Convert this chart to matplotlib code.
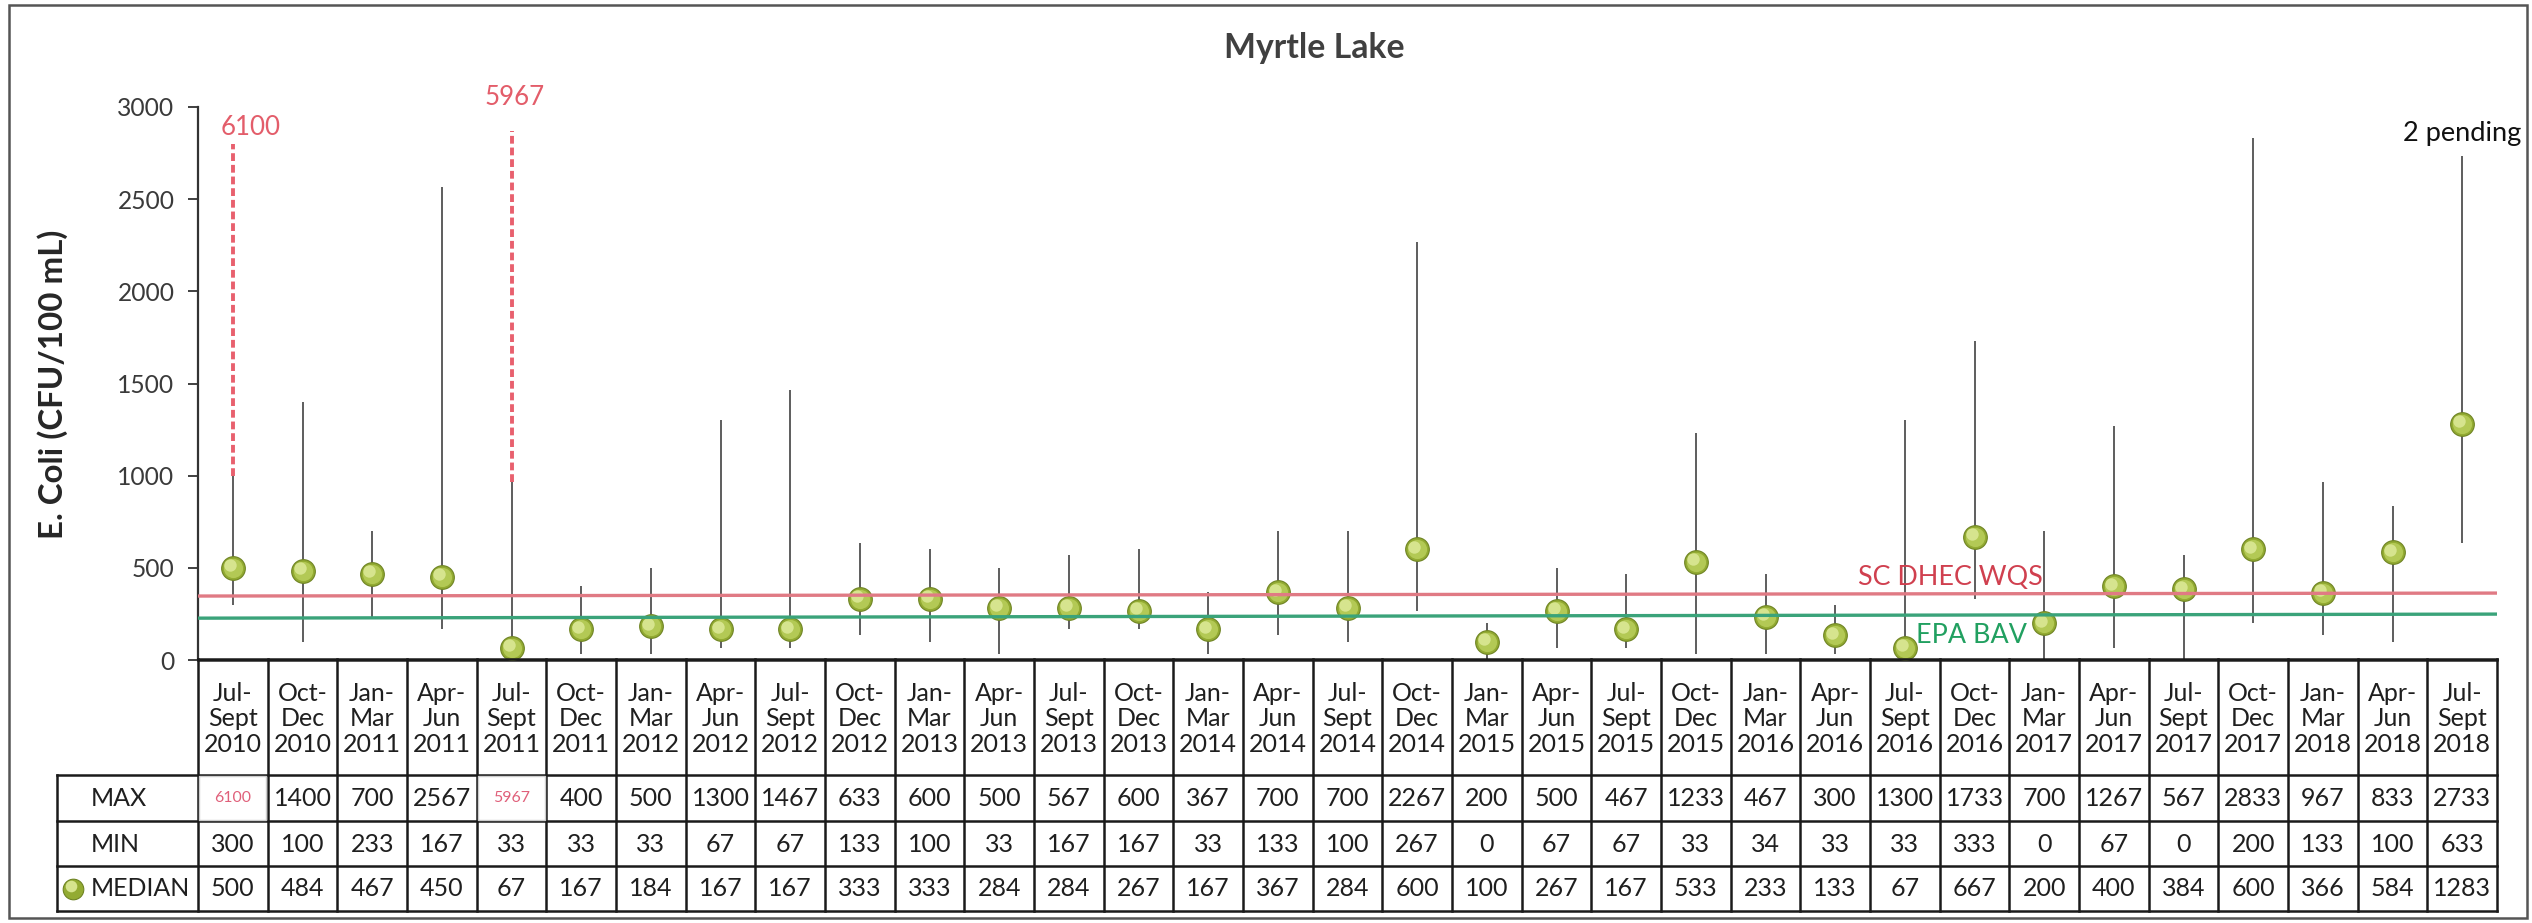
import matplotlib
matplotlib.use("Agg")
import matplotlib.pyplot as plt
from matplotlib.patches import Rectangle

plt.rcParams['font.family'] = ['Lato', 'DejaVu Sans']

# ---------------- data ----------------
periods = ["Jul-\nSept\n2010", "Oct-\nDec\n2010", "Jan-\nMar\n2011", "Apr-\nJun\n2011",
           "Jul-\nSept\n2011", "Oct-\nDec\n2011", "Jan-\nMar\n2012", "Apr-\nJun\n2012",
           "Jul-\nSept\n2012", "Oct-\nDec\n2012", "Jan-\nMar\n2013", "Apr-\nJun\n2013",
           "Jul-\nSept\n2013", "Oct-\nDec\n2013", "Jan-\nMar\n2014", "Apr-\nJun\n2014",
           "Jul-\nSept\n2014", "Oct-\nDec\n2014", "Jan-\nMar\n2015", "Apr-\nJun\n2015",
           "Jul-\nSept\n2015", "Oct-\nDec\n2015", "Jan-\nMar\n2016", "Apr-\nJun\n2016",
           "Jul-\nSept\n2016", "Oct-\nDec\n2016", "Jan-\nMar\n2017", "Apr-\nJun\n2017",
           "Jul-\nSept\n2017", "Oct-\nDec\n2017", "Jan-\nMar\n2018", "Apr-\nJun\n2018",
           "Jul-\nSept\n2018"]
max_vals = [6100, 1400, 700, 2567, 5967, 400, 500, 1300, 1467, 633, 600, 500, 567, 600,
            367, 700, 700, 2267, 200, 500, 467, 1233, 467, 300, 1300, 1733, 700, 1267,
            567, 2833, 967, 833, 2733]
min_vals = [300, 100, 233, 167, 33, 33, 33, 67, 67, 133, 100, 33, 167, 167, 33, 133,
            100, 267, 0, 67, 67, 33, 34, 33, 33, 333, 0, 67, 0, 200, 133, 100, 633]
median_vals = [500, 484, 467, 450, 67, 167, 184, 167, 167, 333, 333, 284, 284, 267, 167,
               367, 284, 600, 100, 267, 167, 533, 233, 133, 67, 667, 200, 400, 384, 600,
               366, 584, 1283]
# off-scale maxima: drawn solid to the first value, dashed to the second
outlier_idx = [0, 4]
outlier_solid_top = [1000, 967]
outlier_dash_top = [2800, 2870]
outlier_label_y = [2890, 3050]
wqs_ends = [347, 363]     # SC DHEC WQS line (left, right)
bav_ends = [227, 249]     # EPA BAV line (left, right)

W, H = 2532, 923
fig = plt.figure(figsize=(W / 100, H / 100), dpi=100)
renderer = fig.canvas.get_renderer()


def fit_size(s, target_px, base=20, **kw):
    t = fig.text(0, 0, s, fontsize=base, **kw)
    w = t.get_window_extent(renderer).width
    t.remove()
    return base * target_px / w


fs_tab = fit_size("2010", 58)
fs_tick = fit_size("3000", 57)
fs_ylab = fit_size("E. Coli (CFU/100 mL)", 310, fontweight='bold')
fs_title = fit_size("Myrtle Lake", 180, fontweight='bold')
fs_wqs = fit_size("SC DHEC WQS", 185)
fs_pend = fit_size("2 pending", 119)
fs_out = fit_size("6100", 60)
fs_small = fit_size("6100", 37)

# figure frame
fig.add_artist(Rectangle((9 / W, 1 - 918 / H), (2527 - 9) / W, (918 - 5) / H,
                         transform=fig.transFigure, fill=False, edgecolor='#555555', lw=1.8))

x_left, x_right = 198, 2497
y_top, y_zero = 107, 660
ax = fig.add_axes([x_left / W, 1 - y_zero / H, (x_right - x_left) / W, (y_zero - y_top) / H])
n = len(periods)
xs = list(range(n))
ax.set_xlim(-0.5, n - 0.5)
ax.set_ylim(0, 3000)
for s in ['top', 'right']:
    ax.spines[s].set_visible(False)
ax.spines['left'].set_color('#333333')
ax.spines['left'].set_linewidth(1.6)
ax.spines['bottom'].set_color('#222222')
ax.spines['bottom'].set_linewidth(1.8)
ax.set_xticks([])
ax.set_yticks(range(0, 3001, 500))
ax.tick_params(axis='y', labelsize=fs_tick, colors='#404040', length=7, width=1.4, pad=10)
for lab in ax.get_yticklabels():
    lab.set_color('#3a3a3a')
ax.set_ylabel("E. Coli (CFU/100 mL)", fontsize=fs_ylab, fontweight='bold', color='#262626')
ax.yaxis.set_label_coords((68 - x_left) / (x_right - x_left), (y_zero - 384) / (y_zero - y_top))

# vertical min-max lines
drawn_top = list(max_vals)
for i, t in zip(outlier_idx, outlier_solid_top):
    drawn_top[i] = t
ax.vlines(xs, min_vals, drawn_top, color='#505050', lw=1.3, zorder=2)
for i, t0, t1, ly in zip(outlier_idx, outlier_solid_top, outlier_dash_top, outlier_label_y):
    ax.plot([i, i], [t0, t1], color='#e8606e', lw=2.8, ls=(0, (2.0, 1.0)), zorder=2, clip_on=False)
    off = 0.25 if i == 0 else 0.05
    ax.text(i + off, ly, str(max_vals[i]), color='#e35d6a', fontsize=fs_out, ha='center',
            va='center', clip_on=False)

# median markers (simulated sphere)
ax.scatter(xs, median_vals, s=290, color='#93ab32', edgecolor='#6f8424', linewidth=0.8, zorder=3)
ax.scatter(xs, median_vals, s=190, color='#b3c955', linewidth=0, zorder=3.1)
ax.scatter([x - 0.04 for x in xs], [m + 14 for m in median_vals], s=80, color='#d6e48e',
           linewidth=0, zorder=3.2)

# standard lines
ax.plot([-0.5, n - 0.5], wqs_ends, color='#e07a84', lw=2.4, zorder=4)
ax.plot([-0.5, n - 0.5], bav_ends, color='#3aa37a', lw=2.4, zorder=4)
ax.text(24.65, 450, "SC DHEC WQS", color='#d0404f', fontsize=fs_wqs, ha='center', va='center', zorder=5)
ax.text(24.96, 133, "EPA BAV", color='#21a060', fontsize=fs_wqs, ha='center', va='center', zorder=5)
ax.text(n - 1, 2855, "2 pending", color='#111111', fontsize=fs_pend, ha='center', va='center',
        clip_on=False)

fig.text(1314 / W, 1 - 48 / H, "Myrtle Lake", fontsize=fs_title, fontweight='bold', color='#404040',
         ha='center', va='center')

# ---------------- table ----------------
t_left = 57
colw = (x_right - x_left) / n
tx0 = -0.5 - (x_left - t_left) / colw
tax = fig.add_axes([t_left / W, 1 - 911 / H, (x_right - t_left) / W, (911 - 659) / H])
tax.set_xlim(tx0, n - 0.5)
tax.set_ylim(911, 659)
tax.axis('off')
rows_y = [659, 775, 821, 866, 911]
lc = '#1a1a1a'
tax.plot([-0.5, n - 0.5], [659, 659], color=lc, lw=1.8, clip_on=False)
for yy in rows_y[1:]:
    tax.plot([tx0, n - 0.5], [yy, yy], color=lc, lw=1.8, clip_on=False)
for k in range(n + 1):
    tax.plot([-0.5 + k, -0.5 + k], [659, 911], color=lc, lw=1.8, clip_on=False)
tax.plot([tx0, tx0], [775, 911], color=lc, lw=1.8, clip_on=False)

tc = '#1f1f1f'
for i, lab in enumerate(periods):
    tax.text(i, 719, lab, ha='center', va='center', fontsize=fs_tab, color=tc, linespacing=1.12)
row_centers = [798, 844, 889]
label_x = tx0 + (91 - t_left) / colw
for yc, name in zip(row_centers, ["MAX", "MIN", "MEDIAN"]):
    tax.text(label_x, yc, name, ha='left', va='center', fontsize=fs_tab, color=tc)
mx = tx0 + (73 - t_left) / colw
tax.scatter([mx], [889], s=220, color='#93ab32', edgecolor='#6f8424', lw=0.8, zorder=3, clip_on=False)
tax.scatter([mx - 0.03], [886], s=70, color='#d6e48e', lw=0, zorder=3.1, clip_on=False)

for i in range(n):
    if i in outlier_idx:
        tax.add_patch(Rectangle((i - 0.5 + 0.02, 776), 0.96, 44, facecolor='white',
                                edgecolor='#cccccc', lw=1.0, zorder=3))
        tax.text(i, 798, str(max_vals[i]), ha='center', va='center', fontsize=fs_small,
                 color='#e0607a', zorder=4)
    else:
        tax.text(i, 798, str(max_vals[i]), ha='center', va='center', fontsize=fs_tab, color=tc)
    tax.text(i, 844, str(min_vals[i]), ha='center', va='center', fontsize=fs_tab, color=tc)
    tax.text(i, 889, str(median_vals[i]), ha='center', va='center', fontsize=fs_tab, color=tc)

fig.savefig("out.png", dpi=100, facecolor='white')
